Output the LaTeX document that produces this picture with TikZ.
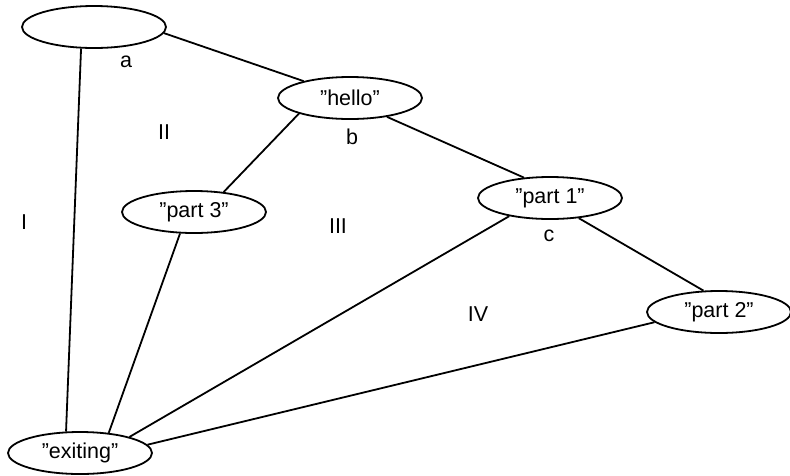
\documentclass[tikz,border=0pt]{standalone}
\usepackage{fontspec}
\setmainfont{Liberation Sans}[Ligatures=ResetAll]
\usetikzlibrary{shapes.geometric}
\newcommand{\qq}[1]{\symbol{34}#1\symbol{34}}
\begin{document}
\begin{tikzpicture}[x=1pt,y=-1pt,
  state/.style={ellipse,draw,line width=1.8pt,minimum width=144pt,minimum height=42pt,inner sep=0pt,font=\fontsize{21.5}{25}\selectfont},
  region/.style={font=\fontsize{21.5}{25}\selectfont,inner sep=0pt},
  edge/.style={line width=1.8pt}]
\useasboundingbox (0,0) rectangle (790,475);
\node[state] (T) at (94,27) {};
\node[state] (H) at (350,98) {\qq{hello}};
\node[state] (P3) at (194,212) {\qq{part 3}};
\node[state] (P1) at (550,198) {\qq{part 1}};
\node[state] (P2) at (719,312) {\qq{part 2}};
\node[state] (E) at (80,453) {\qq{exiting}};
\node[region] (la) at (126,62) {a};
\node[region] (lII) at (164,132) {II};
\node[region] (lb) at (352,137) {b};
\node[region] (lI) at (24,222) {I};
\node[region] (lIII) at (338,226) {III};
\node[region] (lc) at (549,236) {c};
\node[region] (lIV) at (478,314) {IV};
\draw[edge] (T.-5.6) -- (H.160.4);
\draw[edge] (T.-121) -- (E.123);
\draw[edge] (H.-163.9) -- (P3.34.6);
\draw[edge] (H.-27.2) -- (P1.142.1);
\draw[edge] (P3.-123.7) -- (E.35.5);
\draw[edge] (P1.-35.5) -- (P2.126);
\draw[edge] (P1.-156.2) -- (E.18.4);
\draw[edge] (P2.-171.6) -- (E.7.7);
\end{tikzpicture}
\end{document}
